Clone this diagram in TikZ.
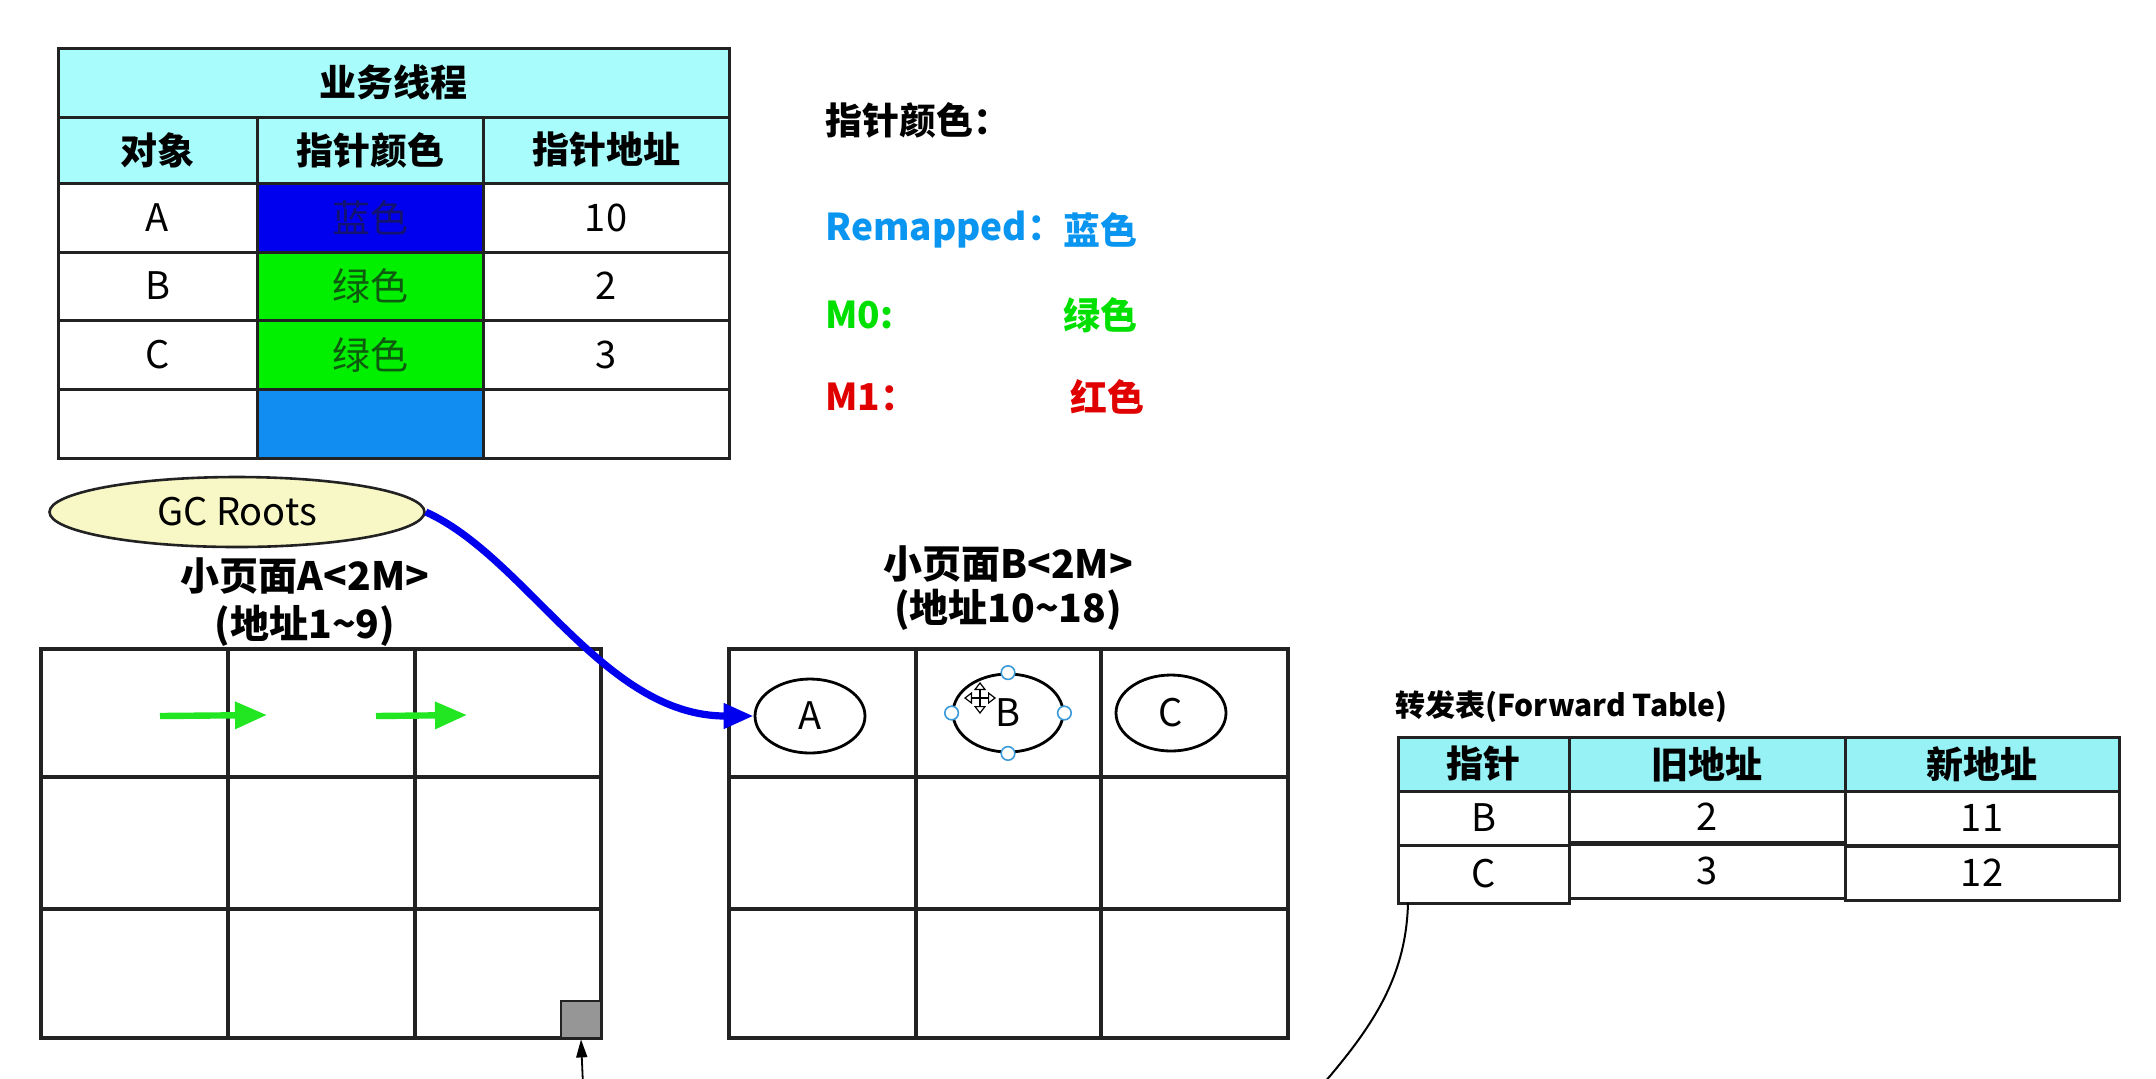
\documentclass[tikz,border=0pt]{standalone}
\usepackage{fontspec}
\setmainfont{Noto Sans CJK SC}
\usetikzlibrary{arrows.meta,shapes.geometric}
\definecolor{hdrcyan}{HTML}{A8FCFC}
\definecolor{fwdcyan}{HTML}{96F2F4}
\definecolor{cellblue}{HTML}{0000EE}
\definecolor{cellgreen}{HTML}{00F000}
\definecolor{cellsky}{HTML}{118CF0}
\definecolor{remapblue}{HTML}{0A96F0}
\definecolor{mzero}{HTML}{00E000}
\definecolor{mone}{HTML}{E00000}
\definecolor{gcyellow}{HTML}{F8F8C6}
\definecolor{arrowgreen}{HTML}{22E622}
\definecolor{linek}{HTML}{222222}
\definecolor{handlecol}{HTML}{3A9AD9}
\definecolor{bluetxt}{HTML}{141470}
\definecolor{greentxt}{HTML}{0E5A0E}
\newcommand\fhead{\fontsize{18.5}{20}\selectfont\bfseries}
\newcommand\flabel{\fontsize{19.5}{21}\selectfont\bfseries}
\newcommand\fdata{\fontsize{19}{21}\selectfont}
\newcommand\fsmallhead{\fontsize{15}{17}\selectfont\bfseries}
\tikzset{
  tcell/.style={draw=linek,line width=1.5pt,inner sep=0pt,outer sep=0pt,rectangle},
  hdrtxt/.style={font=\fhead},
  datatxt/.style={font=\fdata},
  legendtxt/.style={font=\fhead,anchor=west,inner sep=0pt},
  objell/.style={ellipse,draw=black,line width=1.4pt,inner sep=0pt,font=\fdata},
  gridline/.style={draw=linek,line width=1.75pt},
}
\newcommand\cellnode[7]{%
  \pgfmathsetmacro\cw{(#4-#2)*0.5}%
  \pgfmathsetmacro\ch{(#5-#3)*0.5}%
  \node[tcell,#6,minimum width=\cw pt,minimum height=\ch pt] (#1) at ({(#2+#4)/2},{(#3+#5)/2}) {#7};}
\begin{document}
\begin{tikzpicture}[x=0.5pt,y=-0.5pt]
\fill[white] (0,0) rectangle (2156,1078);
\useasboundingbox (0,0) rectangle (2156,1078);

% ---- top table
\cellnode{th}{58}{48}{729}{117}{fill=hdrcyan,hdrtxt}{业务线程}
\cellnode{tc1}{58}{117}{257}{183}{fill=hdrcyan,hdrtxt}{对象}
\cellnode{tc2}{257}{117}{483}{183}{fill=hdrcyan,hdrtxt}{指针颜色}
\cellnode{tc3}{483}{117}{729}{183}{fill=hdrcyan,hdrtxt}{指针地址}
\cellnode{ta1}{58}{183}{257}{252}{fill=white,datatxt}{A}
\cellnode{ta2}{257}{183}{483}{252}{fill=cellblue,datatxt,text=bluetxt}{蓝色}
\cellnode{ta3}{483}{183}{729}{252}{fill=white,datatxt}{10}
\cellnode{tb1}{58}{252}{257}{320}{fill=white,datatxt}{B}
\cellnode{tb2}{257}{252}{483}{320}{fill=cellgreen,datatxt,text=greentxt}{绿色}
\cellnode{tb3}{483}{252}{729}{320}{fill=white,datatxt}{2}
\cellnode{tcc1}{58}{320}{257}{389}{fill=white,datatxt}{C}
\cellnode{tcc2}{257}{320}{483}{389}{fill=cellgreen,datatxt,text=greentxt}{绿色}
\cellnode{tcc3}{483}{320}{729}{389}{fill=white,datatxt}{3}
\cellnode{te1}{58}{389}{257}{458}{fill=white}{}
\cellnode{te2}{257}{389}{483}{458}{fill=cellsky}{}
\cellnode{te3}{483}{389}{729}{458}{fill=white}{}

% ---- legend
\node[legendtxt] (lg0) at (825,120) {指针颜色：};
\node[legendtxt,text=remapblue] (lg1) at (825,230) {Remapped：};
\node[legendtxt,text=remapblue] (lg1c) at (1063,230) {蓝色};
\node[legendtxt,text=mzero] (lg2) at (825,315) {M0:};
\node[legendtxt,text=mzero] (lg2c) at (1063,315) {绿色};
\node[legendtxt,text=mone] (lg3) at (825,397) {M1：};
\node[legendtxt,text=mone] (lg3c) at (1070,397) {红色};

% ---- GC Roots
\node[ellipse,draw=linek,line width=1.3pt,fill=gcyellow,minimum width=187.5pt,minimum height=35pt,inner sep=0pt,font=\fdata] (gc) at (237,512) {GC Roots};

% ---- page labels
\node[font=\flabel] (lblA1) at (305,576) {小页面A<2M>};
\node[font=\flabel] (lblA2) at (305,626) {(地址1\textasciitilde 9)};
\node[font=\flabel] (lblB1) at (1008,564) {小页面B<2M>};
\node[font=\flabel] (lblB2) at (1008,610) {(地址10\textasciitilde 18)};

% ---- grid A
\draw[gridline] (41,649) rectangle (601,1038);
\draw[gridline] (228,649) -- (228,1038) (415,649) -- (415,1038);
\draw[gridline] (41,777) -- (601,777) (41,909) -- (601,909);
% ---- grid B
\draw[gridline] (729,649) rectangle (1288,1038);
\draw[gridline] (916,649) -- (916,1038) (1101,649) -- (1101,1038);
\draw[gridline] (729,777) -- (1288,777) (729,909) -- (1288,909);

% green arrows in page A
\coordinate (g1s) at (160,716); \coordinate (g1e) at (267,715);
\coordinate (g2s) at (376,716); \coordinate (g2e) at (467,715);
\draw[arrowgreen,line width=3.2pt,-{Triangle[length=16pt,width=13pt]}] (g1s) -- (g1e);
\draw[arrowgreen,line width=3.2pt,-{Triangle[length=16pt,width=13pt]}] (g2s) -- (g2e);

% gray block + arrow from below
\node[draw=linek,line width=1.4pt,fill={rgb,255:red,150;green,150;blue,150},minimum width=20pt,minimum height=18.5pt,inner sep=0pt] (gblk) at (581,1019.5) {};
\coordinate (upfrom) at (583,1085);
\draw[black,line width=0.9pt,-{Triangle[length=9pt,width=5.5pt]}] (upfrom) -- (gblk.south);

% objects in page B
\node[objell,minimum width=55pt,minimum height=37pt] (pa) at (810,716) {A};
\node[objell,minimum width=55pt,minimum height=39pt] (pb) at (1008,713) {B};
\node[objell,minimum width=55pt,minimum height=38pt] (pc) at (1171,713) {C};
\foreach \an in {north,south,east,west}
  \draw[handlecol,fill=white,line width=0.8pt] (pb.\an) circle (3.4pt);
% move cursor
\coordinate (cur) at (980,698);
\draw[black,line width=0.6pt,{Triangle[length=4pt,width=6pt,fill=white]}-{Triangle[length=4pt,width=6pt,fill=white]}] ([xshift=-8pt]cur) -- ([xshift=8pt]cur);
\draw[black,line width=0.6pt,{Triangle[length=4pt,width=6pt,fill=white]}-{Triangle[length=4pt,width=6pt,fill=white]}] ([yshift=8pt]cur) -- ([yshift=-8pt]cur);

% blue reference curve
\draw[cellblue,line width=3.6pt,-{Triangle[length=15pt,width=12pt]}] (gc.east) .. controls +(100,45) and +(-150,0) .. (pa.west);

% ---- forward table
\node[font=\fsmallhead,anchor=west,inner sep=0pt] (ftitle) at (1395,707) {转发表(Forward Table)};
\cellnode{fh1}{1398}{737}{1569}{791}{fill=fwdcyan,hdrtxt}{指针}
\cellnode{fh2}{1569}{737}{1845}{791}{fill=fwdcyan,hdrtxt}{旧地址}
\cellnode{fh3}{1845}{737}{2119}{791}{fill=fwdcyan,hdrtxt}{新地址}
\cellnode{fb1}{1398}{791}{1569}{845}{fill=white,datatxt}{B}
\cellnode{fc1}{1398}{845}{1569}{903}{fill=white,datatxt}{C}
\cellnode{fb2}{1569}{791}{1845}{842}{fill=white,datatxt}{2}
\cellnode{fc2}{1569}{844}{1845}{898}{fill=white,datatxt}{3}
\cellnode{fb3}{1845}{791}{2119}{845}{fill=white,datatxt}{11}
\cellnode{fc3}{1845}{846}{2119}{900}{fill=white,datatxt}{12}

% curve leaving forward table
\coordinate (fend) at (1318,1090);
\draw[black,line width=1pt] ([xshift=5pt]fc1.south west) .. controls +(-2,77) and +(52,-60) .. (fend);
\end{tikzpicture}
\end{document}
